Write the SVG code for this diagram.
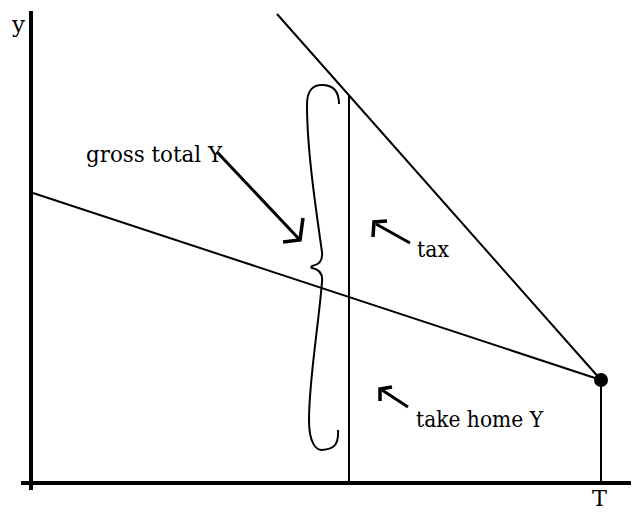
<svg xmlns="http://www.w3.org/2000/svg" width="641" height="512" viewBox="0 0 641 512">
<style>
.ln{stroke:#000;fill:none;stroke-linecap:butt}
.ax{stroke-width:4}
.th{stroke-width:2}
.ar{stroke-width:3.5;stroke-linecap:butt;stroke-linejoin:miter}
.lb{font-family:'DejaVu Serif','Liberation Serif',serif;font-size:23px;fill:#000}
</style>
<rect width="641" height="512" fill="#fff"/>
<g id="connectors">
<line class="ln ax" x1="31" y1="11" x2="31" y2="490"/>
<line class="ln ax" x1="21" y1="483" x2="631" y2="483"/>
<line class="ln th" x1="33" y1="193" x2="601" y2="380"/>
<line class="ln th" x1="277" y1="14" x2="601" y2="380"/>
<line class="ln th" x1="349" y1="95" x2="349" y2="483"/>
<line class="ln th" x1="601" y1="380" x2="601" y2="483"/>
<path class="ln" stroke-width="2" d="M339,104 C339,92 334,85 322,85 C311,85 307,92 307,105 C307,150 316,210 322,252 C323,261 318,265 312,266 C311,267 311,268 312,268 C318,269 323,273 322,282 C318,330 309,380 309,420 C309,443 316,450 322,450 C333,449 339,446 338,430"/>
<path class="ln" stroke-width="3" d="M217,152 L299,239"/>
<path class="ln ar" d="M303,218 L300,240 L283,242"/>
<path class="ln" stroke-width="3" d="M410,243 L376,224"/>
<path class="ln ar" d="M373,237 L374,222 L387,221"/>
<path class="ln" stroke-width="3" d="M408,407 L382,390"/>
<path class="ln ar" d="M380,401 L380,389 L392,387"/>
</g>
<g id="dot"><circle cx="601" cy="380" r="7" fill="#000"/></g>
<g id="labels">
<text class="lb" x="12" y="32" textLength="13" lengthAdjust="spacingAndGlyphs">y</text>
<text class="lb" x="592" y="506" textLength="15" lengthAdjust="spacingAndGlyphs">T</text>
<text class="lb" x="86" y="162" textLength="136" lengthAdjust="spacingAndGlyphs">gross total Y</text>
<text class="lb" x="417" y="257" textLength="32" lengthAdjust="spacingAndGlyphs">tax</text>
<text class="lb" x="416" y="427" textLength="127" lengthAdjust="spacingAndGlyphs">take home Y</text>
</g>
</svg>
